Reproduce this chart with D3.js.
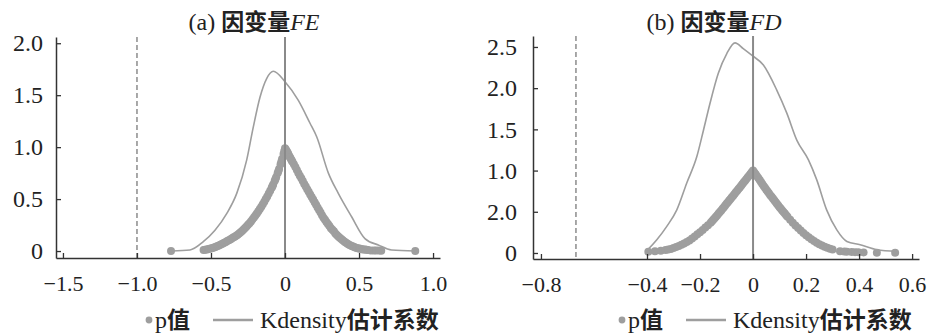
<!DOCTYPE html>
<html>
<head>
<meta charset="utf-8">
<title>Kdensity</title>
<script src="https://d3js.org/d3.v7.min.js"></script>
</head>
<body style="margin:0">
<svg id="chart" width="931" height="334"></svg>
<script>

// ---- panel (a) FE ----
var feXTicks = [-1.5, -1, -0.5, 0, 0.5, 1]
var feXLabels = ['\u22121.5', '\u22121.0', '\u22120.5', '0', '0.5', '1.0']
var feYTicks = [0, 0.5, 1, 1.5, 2]
var feYLabels = ['0', '0.5', '1.0', '1.5', '2.0']
var feDashed = -1.0

var feDensX = [-0.766, -0.642, -0.552, -0.473, -0.394, -0.326, -0.259, -0.214, -0.169, -0.124, -0.079, 0,
  0.09, 0.169, 0.214, 0.293, 0.36, 0.45, 0.54, 0.63, 0.72, 0.878]
var feDensY = [0.0, 0.01, 0.09, 0.20, 0.36, 0.555, 0.875, 1.195, 1.48, 1.66, 1.73, 1.63,
  1.45, 1.23, 1.10, 0.75, 0.555, 0.33, 0.12, 0.058, 0.01, 0.0]

var fePX = [-0.77, -0.55, -0.54, -0.53, -0.52, -0.51, -0.50, -0.49, -0.48, -0.47, -0.46, -0.45, -0.44, -0.43, -0.42,
  -0.41, -0.40, -0.39, -0.38, -0.37, -0.36, -0.35, -0.34, -0.33, -0.32, -0.31, -0.30, -0.29, -0.28, -0.27,
  -0.26, -0.25, -0.24, -0.23, -0.22, -0.21, -0.20, -0.19, -0.18, -0.17, -0.16, -0.15, -0.14, -0.13, -0.12,
  -0.11, -0.10, -0.09, -0.08, -0.07, -0.06, -0.05, -0.04, -0.03, -0.02, -0.01, 0,
  0.01, 0.02, 0.03, 0.04, 0.05, 0.06, 0.07, 0.08, 0.09, 0.10, 0.11, 0.12, 0.13, 0.14, 0.15, 0.16, 0.17,
  0.18, 0.19, 0.20, 0.21, 0.22, 0.23, 0.24, 0.25, 0.26, 0.27, 0.28, 0.29, 0.30, 0.31, 0.32, 0.33, 0.34,
  0.35, 0.36, 0.37, 0.38, 0.39, 0.40, 0.41, 0.42, 0.43, 0.44, 0.45, 0.46, 0.47, 0.48, 0.49, 0.50, 0.51,
  0.52, 0.53, 0.54, 0.55, 0.56, 0.58, 0.60, 0.615, 0.635, 0.65, 0.88,
  -0.085, -0.065, -0.045, -0.025, -0.005, 0.005, 0.015, 0.025, 0.035, 0.045]
var fePY = [0.0, 0.010, 0.012, 0.015, 0.018, 0.021, 0.025, 0.029, 0.034, 0.039, 0.045, 0.051, 0.058, 0.065, 0.072,
  0.080, 0.088, 0.096, 0.104, 0.112, 0.121, 0.130, 0.138, 0.147, 0.157, 0.168, 0.180, 0.193, 0.207, 0.221,
  0.236, 0.252, 0.268, 0.285, 0.303, 0.322, 0.341, 0.361, 0.382, 0.404, 0.427, 0.451, 0.475, 0.500, 0.526,
  0.553, 0.580, 0.608, 0.640, 0.675, 0.710, 0.748, 0.790, 0.835, 0.885, 0.935, 0.990,
  0.965, 0.94, 0.91, 0.885, 0.86, 0.835, 0.81, 0.78, 0.75, 0.725, 0.70, 0.675, 0.645, 0.62, 0.595, 0.57, 0.545,
  0.52, 0.495, 0.47, 0.445, 0.42, 0.395, 0.37, 0.345, 0.32, 0.30, 0.28, 0.26, 0.24, 0.22, 0.205, 0.19, 0.17,
  0.155, 0.14, 0.128, 0.115, 0.103, 0.092, 0.082, 0.073, 0.064, 0.056, 0.049, 0.043, 0.037, 0.032, 0.028, 0.024, 0.021,
  0.018, 0.016, 0.014, 0.012, 0.010, 0.006, 0.005, 0.004, 0.004, 0.003, 0.0,
  0.624, 0.692, 0.768, 0.860, 0.962, 0.978, 0.952, 0.925, 0.897, 0.872]

// ---- panel (b) FD ----
var fdXTicks = [-0.8, -0.4, -0.2, 0, 0.2, 0.4, 0.6]
var fdXLabels = ['\u22120.8', '\u22120.4', '\u22120.2', '0', '0.2', '0.4', '0.6']
var fdYTicks = [0, 0.5, 1, 1.5, 2, 2.5]
var fdYLabels = ['0', '2.0', '1.0', '1.5', '2.0', '2.5']
var fdDashed = -0.668

var fdDensX = [-0.40, -0.363, -0.326, -0.288, -0.25, -0.212, -0.187, -0.162, -0.131, -0.099, -0.068, -0.037, -0.005,
  0.039, 0.089, 0.127, 0.165, 0.209, 0.24, 0.278, 0.316, 0.354, 0.404, 0.467, 0.542]
var fdDensY = [0.03, 0.16, 0.32, 0.52, 0.85, 1.17, 1.49, 1.82, 2.18, 2.42, 2.55, 2.48, 2.40,
  2.28, 1.98, 1.70, 1.37, 1.13, 0.89, 0.52, 0.28, 0.14, 0.10, 0.04, 0.02]

var fdPX = [-0.395, -0.37, -0.348, -0.33, -0.32, -0.31, -0.30, -0.29, -0.28, -0.27, -0.26, -0.25, -0.24, -0.23, -0.22,
  -0.21, -0.20, -0.19, -0.18, -0.17, -0.16, -0.15, -0.14, -0.13, -0.12, -0.11, -0.10, -0.09, -0.08, -0.07,
  -0.06, -0.05, -0.04, -0.03, -0.02, -0.01, 0,
  0.01, 0.02, 0.03, 0.04, 0.05, 0.06, 0.07, 0.08, 0.09, 0.10, 0.11, 0.12, 0.13, 0.14, 0.15, 0.16, 0.17,
  0.18, 0.19, 0.20, 0.21, 0.22, 0.23, 0.24, 0.25, 0.26, 0.27, 0.28, 0.29, 0.30,
  0.328, 0.345, 0.354, 0.372, 0.385, 0.397, 0.417, 0.467, 0.536,
  -0.155, -0.145, -0.135, -0.125, -0.115, -0.105, -0.095, -0.085, -0.075, -0.065, -0.055, -0.045, -0.035, -0.025,
  -0.015, -0.005, 0.005, 0.015, 0.025, 0.035, 0.045, 0.055, 0.065, 0.075, 0.085, 0.095, 0.105, 0.115, 0.125]
var fdPY = [0.015, 0.022, 0.028, 0.036, 0.042, 0.048, 0.060, 0.072, 0.086, 0.100, 0.115, 0.132, 0.152, 0.175, 0.200,
  0.226, 0.253, 0.280, 0.308, 0.337, 0.368, 0.403, 0.440, 0.478, 0.517, 0.556, 0.596, 0.636, 0.676, 0.716,
  0.756, 0.796, 0.837, 0.878, 0.918, 0.959, 1.0,
  0.955, 0.910, 0.862, 0.814, 0.768, 0.724, 0.681, 0.639, 0.597, 0.556, 0.516, 0.478, 0.440, 0.403, 0.368, 0.334, 0.302,
  0.272, 0.243, 0.216, 0.191, 0.167, 0.145, 0.125, 0.107, 0.091, 0.076, 0.063, 0.052, 0.042,
  0.022, 0.018, 0.016, 0.012, 0.010, 0.008, 0.006, 0.004, 0.003,
  0.385, 0.421, 0.459, 0.497, 0.536, 0.576, 0.616, 0.656, 0.696, 0.736, 0.776, 0.816, 0.857, 0.898,
  0.938, 0.979, 0.978, 0.932, 0.886, 0.838, 0.791, 0.746, 0.702, 0.660, 0.618, 0.576, 0.536, 0.497, 0.459]

var svg = d3.select('#chart')
var gray = '#9e9e9e'

function serif(sel, size) {
  return sel.style('font-family', "'Liberation Serif'").style('font-size', size + 'px')
}
function cjk(sel, size) {
  return sel.style('font-family', "'Noto Sans CJK SC'").style('font-weight', 'bold').style('font-size', size + 'px')
}

var panels = [
  {title: ['(a) ', '因变量', 'FE'], titleX: 254, xDom: [-1.547, 1.047], xRange: [56, 440], yDom: [-0.067, 2.06], yRange: [258, 37],
    xTicks: feXTicks, xLabels: feXLabels, yTicks: feYTicks, yLabels: feYLabels, yPad: 13, dashed: feDashed,
    densX: feDensX, densY: feDensY, pX: fePX, pY: fePY, legendX: 149},
  {title: ['(b) ', '因变量', 'FD'], titleX: 714, xDom: [-0.83, 0.626], xRange: [533, 919], yDom: [-0.073, 2.633], yRange: [259, 36],
    xTicks: fdXTicks, xLabels: fdXLabels, yTicks: fdYTicks, yLabels: fdYLabels, yPad: 16, dashed: fdDashed,
    densX: fdDensX, densY: fdDensY, pX: fdPX, pY: fdPY, legendX: 622}
]

panels.forEach(function(p) {
  var x = d3.scaleLinear().domain(p.xDom).range(p.xRange)
  var y = d3.scaleLinear().domain(p.yDom).range(p.yRange)
  var g = svg.append('g')

  // kdensity curve
  var dens = p.densX.map((v, i) => [v, p.densY[i]])
  g.append('path')
    .datum(dens)
    .attr('fill', 'none')
    .attr('stroke', gray)
    .attr('stroke-width', 1.6)
    .attr('d', d3.line().x(d => x(d[0])).y(d => y(d[1])).curve(d3.curveMonotoneX))

  // p values
  var pts = p.pX.map((v, i) => [v, p.pY[i]])
  g.selectAll('.pdot')
    .data(pts)
    .enter()
    .append('circle')
    .attr('cx', d => x(d[0]))
    .attr('cy', d => y(d[1]))
    .attr('r', 4)
    .attr('fill', gray)

  // reference lines
  g.append('line')
    .attr('x1', x(p.dashed)).attr('x2', x(p.dashed))
    .attr('y1', y(p.yDom[1])).attr('y2', y(p.yDom[0]))
    .attr('stroke', '#8c8c8c').attr('stroke-width', 1.5)
    .attr('stroke-dasharray', '5,3')

  g.append('line')
    .attr('x1', x(0)).attr('x2', x(0))
    .attr('y1', y(p.yDom[1])).attr('y2', y(p.yDom[0]))
    .attr('stroke', '#8a8a8a').attr('stroke-width', 2)

  // axes
  var xAxis = g.append('g')
    .attr('transform', 'translate(0,' + p.yRange[0] + ')')
    .call(d3.axisBottom(x).tickValues(p.xTicks).tickFormat((d, i) => p.xLabels[i])
      .tickSize(-5).tickSizeOuter(0).tickPadding(17))
  var yAxis = g.append('g')
    .attr('transform', 'translate(' + p.xRange[0] + ',0)')
    .call(d3.axisLeft(y).tickValues(p.yTicks).tickFormat((d, i) => p.yLabels[i])
      .tickSize(-5).tickSizeOuter(0).tickPadding(p.yPad))

  ;[xAxis, yAxis].forEach(function(a) {
    a.select('.domain').attr('stroke', '#333').attr('stroke-width', 1.5)
    a.selectAll('.tick line').attr('stroke', '#333').attr('stroke-width', 1.3)
  })
  serif(xAxis.selectAll('.tick text'), 22).attr('fill', '#222')
  serif(yAxis.selectAll('.tick text'), 24).attr('fill', '#222')

  // title
  var t = serif(svg.append('text'), 24)
    .attr('x', p.titleX).attr('y', 30)
    .attr('text-anchor', 'middle')
    .attr('fill', '#222')
  serif(t.append('tspan'), 24).text(p.title[0])
  cjk(t.append('tspan'), 23).text(p.title[1])
  serif(t.append('tspan'), 24).style('font-style', 'italic').text(p.title[2])

  // legend
  var lx = p.legendX
  svg.append('circle').attr('cx', lx).attr('cy', 320).attr('r', 3.4).attr('fill', gray)
  var l1 = serif(svg.append('text'), 24).attr('x', lx + 6).attr('y', 328).attr('fill', '#222')
  serif(l1.append('tspan'), 24).text('p')
  cjk(l1.append('tspan'), 23).text('值')
  svg.append('line')
    .attr('x1', lx + 64).attr('x2', lx + 104)
    .attr('y1', 320).attr('y2', 320)
    .attr('stroke', gray).attr('stroke-width', 2.5)
  var l2 = serif(svg.append('text'), 24).attr('x', lx + 111).attr('y', 328).attr('fill', '#222')
  serif(l2.append('tspan'), 24).text('Kdensity')
  cjk(l2.append('tspan'), 23).text('估计系数')
})

</script>
</body>
</html>
